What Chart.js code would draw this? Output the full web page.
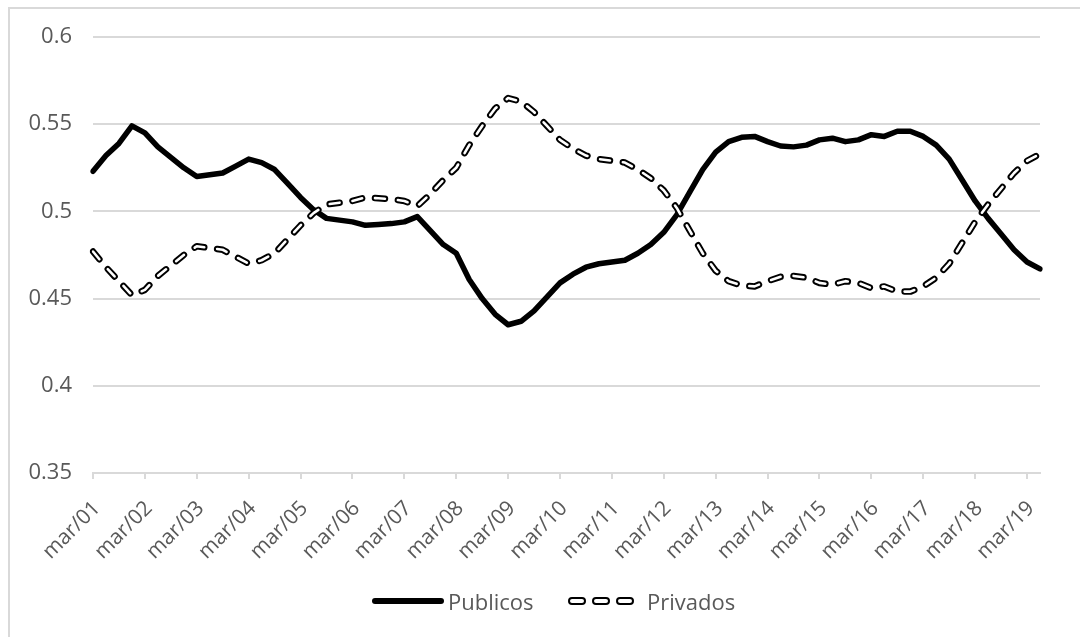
<!DOCTYPE html>
<html>
<head>
<meta charset="utf-8">
<script src="https://cdn.jsdelivr.net/npm/chart.js@4"></script>
<style>
    body { margin: 0; background: #fff; }
    #wrap { position: relative; width: 1080px; height: 637px; overflow: hidden; }
    #frame { position: absolute; left: 8px; top: 7px; width: 1200px; height: 700px; border: 2px solid #d9d9d9; box-sizing: border-box; }
    #chart { position: absolute; left: 0; top: 0; }
    #legend { position: absolute; left: 372px; top: 586px; font-family: 'Open Sans', sans-serif; font-size: 22px; color: #595959; }
    .item { position: absolute; top: 0; display: flex; align-items: center; white-space: nowrap; height: 30px; }
</style>
</head>
<body>
<div id="wrap">
    <div id="frame"></div>
    <canvas id="chart" width="1080" height="637"></canvas>
    <div id="legend">
        <div class="item" style="left:0">
            <svg width="72" height="10"><line x1="3" y1="5" x2="69" y2="5" stroke="#000" stroke-width="6" stroke-linecap="round"/></svg>
            <span style="margin-left:4px">Publicos</span>
        </div>
        <div class="item" style="left:196px">
            <svg width="66" height="10">
                <rect x="1" y="2" width="16" height="6" rx="3" fill="#fff" stroke="#000" stroke-width="2"/>
                <rect x="25" y="2" width="16" height="6" rx="3" fill="#fff" stroke="#000" stroke-width="2"/>
                <rect x="49" y="2" width="16" height="6" rx="3" fill="#fff" stroke="#000" stroke-width="2"/>
            </svg>
            <span style="margin-left:13px">Privados</span>
        </div>
    </div>
</div>
<script>
// one value every 6 hours, starting mar/01
const days = ['mar/01', 'mar/02', 'mar/03', 'mar/04', 'mar/05', 'mar/06', 'mar/07', 'mar/08', 'mar/09', 'mar/10',
              'mar/11', 'mar/12', 'mar/13', 'mar/14', 'mar/15', 'mar/16', 'mar/17', 'mar/18', 'mar/19'];
const perDay = 4;

const publicos = [0.523, 0.532, 0.539, 0.549, 0.545, 0.537, 0.531, 0.525, 0.520, 0.521, 0.522, 0.526,
                  0.530, 0.528, 0.524, 0.516, 0.508, 0.501, 0.496, 0.495, 0.494, 0.492, 0.4925, 0.493,
                  0.494, 0.497, 0.489, 0.481, 0.476, 0.461, 0.450, 0.441, 0.435, 0.437, 0.443, 0.451,
                  0.459, 0.464, 0.468, 0.470, 0.471, 0.472, 0.476, 0.481, 0.488, 0.498, 0.511, 0.524,
                  0.534, 0.540, 0.5425, 0.543, 0.540, 0.5375, 0.537, 0.538, 0.541, 0.542, 0.540, 0.541,
                  0.544, 0.543, 0.546, 0.546, 0.543, 0.538, 0.530, 0.518, 0.506, 0.496, 0.487, 0.478,
                  0.471, 0.467];
const privados = [0.477, 0.468, 0.460, 0.452, 0.455, 0.463, 0.469, 0.475, 0.480, 0.479, 0.478, 0.474,
                  0.470, 0.472, 0.476, 0.484, 0.492, 0.499, 0.504, 0.505, 0.506, 0.508, 0.5075, 0.507,
                  0.506, 0.503, 0.510, 0.518, 0.525, 0.538, 0.549, 0.559, 0.565, 0.563, 0.557, 0.549,
                  0.541, 0.536, 0.532, 0.530, 0.529, 0.528, 0.524, 0.519, 0.512, 0.502, 0.489, 0.476,
                  0.466, 0.460, 0.4575, 0.457, 0.460, 0.4625, 0.463, 0.462, 0.459, 0.458, 0.460, 0.459,
                  0.456, 0.457, 0.454, 0.454, 0.457, 0.462, 0.470, 0.482, 0.494, 0.504, 0.513, 0.522,
                  0.529, 0.533];

const labels = publicos.map((v, i) => i % perDay === 0 ? days[i / perDay] : '');

Chart.defaults.font.family = "'Open Sans', sans-serif";
Chart.defaults.font.size = 22;
Chart.defaults.color = '#595959';

const dash = [10, 13];

new Chart(document.getElementById('chart').getContext('2d'), {
    type: 'line',
    data: {
        labels: labels,
        datasets: [
            {
                label: 'Privados',
                data: privados,
                borderColor: '#fff',
                borderWidth: 2.6,
                borderDash: dash,
                borderCapStyle: 'round',
                borderJoinStyle: 'round',
                pointRadius: 0,
                tension: 0,
                order: 0
            },
            {
                label: 'Privados_outline',
                data: privados,
                borderColor: '#000',
                borderWidth: 6.5,
                borderDash: dash,
                borderCapStyle: 'round',
                borderJoinStyle: 'round',
                pointRadius: 0,
                tension: 0,
                order: 1
            },
            {
                label: 'Publicos',
                data: publicos,
                borderColor: '#000',
                borderWidth: 5.5,
                borderCapStyle: 'round',
                borderJoinStyle: 'round',
                pointRadius: 0,
                tension: 0,
                order: 2
            }
        ]
    },
    options: {
        responsive: false,
        animation: false,
        layout: { padding: { left: 0, top: 37, right: 40, bottom: 0 } },
        plugins: {
            legend: { display: false },
            tooltip: { enabled: false }
        },
        scales: {
            x: {
                offset: false,
                grid: {
                    drawOnChartArea: false,
                    drawTicks: true,
                    tickLength: 6,
                    lineWidth: 2,
                    color: ctx => ctx.index % perDay === 0 ? '#d9d9d9' : 'rgba(0,0,0,0)'
                },
                border: { display: true, color: '#d9d9d9', width: 2 },
                ticks: {
                    autoSkip: false,
                    maxRotation: 45,
                    minRotation: 45,
                    padding: 17,
                    labelOffset: 4,
                    font: { size: 21 }
                },
                afterFit: scale => { scale.height = 164; }
            },
            y: {
                min: 0.35,
                max: 0.6,
                grid: { color: '#d9d9d9', lineWidth: 2, drawTicks: false },
                border: { display: false },
                ticks: {
                    stepSize: 0.05,
                    padding: 21,
                    callback: v => String(+v.toFixed(2))
                },
                afterFit: scale => { scale.width = 93; }
            }
        }
    }
});
</script>
</body>
</html>
